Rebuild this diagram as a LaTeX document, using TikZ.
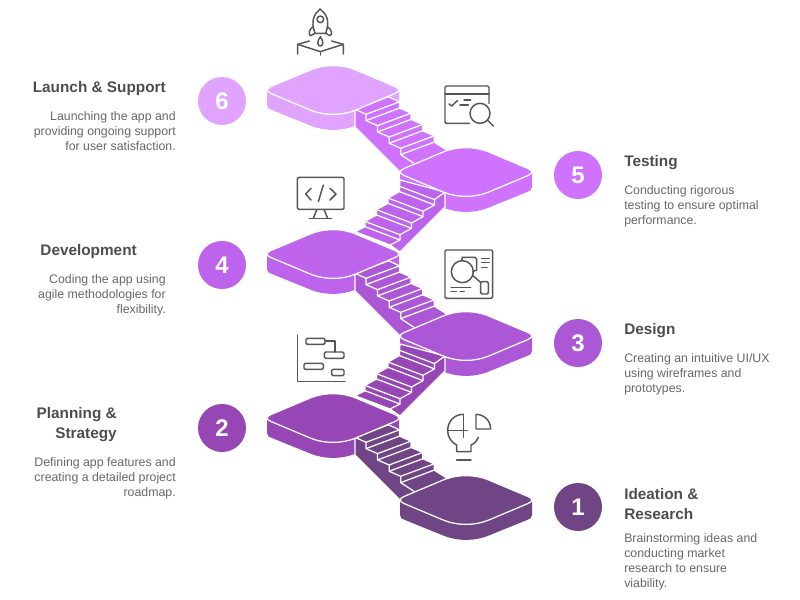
\documentclass[tikz,border=0pt]{standalone}
\usepackage{fontspec}
\setmainfont{Liberation Sans}
\usepackage{tikz}

\definecolor{p1}{HTML}{6F4585}
\definecolor{p2}{HTML}{9747B5}
\definecolor{p3}{HTML}{AC57D6}
\definecolor{p4}{HTML}{BE63EC}
\definecolor{p5}{HTML}{CF73FF}
\definecolor{p6}{HTML}{E0A4FF}
\definecolor{ink}{HTML}{555555}
\definecolor{headink}{HTML}{4D4D4D}
\definecolor{bodyink}{HTML}{666666}

% platform seen from above, centred on the scope origin
\newcommand{\platside}[3]{
  \begin{scope}[shift={(#1,#2)}]
    \fill[#3] (-66,0) -- (-66,15) .. controls (-66,18) and (-64,19) .. (-61,20) -- (-24,35)
      .. controls (-9,41.5) and (9,41.5) .. (24,35) -- (61,20)
      .. controls (64,19) and (66,18) .. (66,15) -- (66,0) -- cycle;
  \end{scope}
}
\newcommand{\plattop}[3]{
  \begin{scope}[shift={(#1,#2)}]
    \draw[#3,draw=white,fill=#3,wline] (-62,-3.5) -- (-24,-19.5)
      .. controls (-9,-26) and (9,-26) .. (24,-19.5) -- (62,-3.5)
      .. controls (67,-1.5) and (67,1.5) .. (62,3.5) -- (24,19.5)
      .. controls (9,26) and (-9,26) .. (-24,19.5) -- (-62,3.5)
      .. controls (-67,1.5) and (-67,-1.5) .. (-62,-3.5) -- cycle;
  \end{scope}
}
% flight going down to the right, from the left platform
\newcommand{\downflight}[2]{
  \begin{scope}[shift={(0,#2)}]
    \draw[draw=white,fill=#1,wline] (355,109.3) -- (355,127) -- (400,172) -- (447.5,150.5)
      \foreach \k in {3,2,1,0} {
        -- (399.5+11.57*\k,108.1+11.33*\k) -- (399.5+11.57*\k,101.8+11.33*\k)
      } -- (388.5,96.8) -- cycle;
    \draw[white,wline] (355,109.3) \foreach \k in {0,...,3} {
        -- (366+11.57*\k,114.3+11.33*\k) -- (366+11.57*\k,120.6+11.33*\k)
      } -- (414,163.3);
    \foreach \k in {0,...,3} {
      \draw[white,wline] (366+11.57*\k,114.3+11.33*\k) -- ++(33.5,-12.5);
      \draw[white,wline] (366+11.57*\k,120.6+11.33*\k) -- ++(33.5,-12.5);
    }
  \end{scope}
}
% flight going up to the right, towards the right platform
\newcommand{\upflight}[2]{
  \begin{scope}[shift={(0,#2)}]
    \draw[draw=white,fill=#1,wline] (355,231.7) \foreach \k in {0,...,3} {
        -- (365+11.5*\k,226.7-11.7*\k) -- (365+11.5*\k,221.4-11.7*\k)
      } -- (400,180) -- (445,192) -- (445,207) -- (400,252) -- (390,245) -- cycle;
    \draw[white,wline] (390,245) \foreach \k in {0,...,3} {
        -- (400+11.5*\k,240-11.7*\k) -- (400+11.5*\k,234.7-11.7*\k)
      } -- (445,192);
    \foreach \k in {0,...,3} {
      \draw[white,wline] (365+11.5*\k,226.7-11.7*\k) -- ++(35,13.3);
      \draw[white,wline] (365+11.5*\k,221.4-11.7*\k) -- ++(35,13.3);
    }
  \end{scope}
}

\begin{document}
\begin{tikzpicture}[x=0.75pt,y=-0.75pt,
  wline/.style={line width=0.95pt,line join=round},
  icon/.style={draw=ink,line width=1.1pt,line cap=round,line join=round},
  zoomed/.style={x=0.25pt,y=-0.25pt},
  num node/.style={circle,minimum size=36pt,inner sep=0pt,text=white,font=\fontsize{18}{18}\selectfont\bfseries},
  head node/.style={inner sep=0pt,align=#1,text=headink,font=\fontsize{11.5}{15}\selectfont\bfseries},
  text node/.style={inner sep=0pt,align=#1,text=bodyink,font=\fontsize{9.25}{11.25}\selectfont}]

  \useasboundingbox (0,0) rectangle (800,600);

  \foreach \cx/\cy/\col in {333/90/p6,466/172/p5,333/254/p4,466/336/p3,333/418/p2,466/500/p1}
    \platside{\cx}{\cy}{\col};
  \downflight{p5}{0}
  \downflight{p3}{164}
  \downflight{p1}{328}
  \upflight{p4}{0}
  \upflight{p2}{164}
  \foreach \cx/\cy/\col in {333/90/p6,466/172/p5,333/254/p4,466/336/p3,333/418/p2,466/500/p1}
    \plattop{\cx}{\cy}{\col};

  \node[num node,fill=p6] (n6) at (222,101) {6};
  \node[num node,fill=p5] (n5) at (578,175) {5};
  \node[num node,fill=p4] (n4) at (222,265) {4};
  \node[num node,fill=p3] (n3) at (578,343) {3};
  \node[num node,fill=p2] (n2) at (222,428) {2};
  \node[num node,fill=p1] (n1) at (578,507) {1};

  \node[head node=right,anchor=east] (h6) at (166,89) {Launch \& Support};
  \node[head node=left,anchor=west] (h5) at (624,163) {Testing};
  \node[head node=right,anchor=east] (h4) at (137,252) {Development};
  \node[head node=left,anchor=west] (h3) at (624,331) {Design};
  \node[head node=right,anchor=east] (h2) at (117,425) {Planning \&\\Strategy};
  \node[head node=left,anchor=west] (h1) at (624,504) {Ideation \&\\Research};

  \node[text node=right,anchor=north east] (t6) at (176,111) {Launching the app and\\providing ongoing support\\for user satisfaction.};
  \node[text node=left,anchor=north west] (t5) at (624,185) {Conducting rigorous\\testing to ensure optimal\\performance.};
  \node[text node=right,anchor=north east] (t4) at (166,274) {Coding the app using\\agile methodologies for\\flexibility.};
  \node[text node=left,anchor=north west] (t3) at (624,353) {Creating an intuitive UI/UX\\using wireframes and\\prototypes.};
  \node[text node=right,anchor=north east] (t2) at (176,457) {Defining app features and\\creating a detailed project\\roadmap.};
  \node[text node=left,anchor=north west] (t1) at (624,533) {Brainstorming ideas and\\conducting market\\research to ensure\\viability.};

  % rocket
  \begin{scope}[shift={(260,0)},zoomed]
    \draw[icon] (165,100) .. controls (150,60) and (165,40) .. (180,27)
      .. controls (197,40) and (212,60) .. (197,100) -- cycle;
    \draw[icon] (181,58) circle (10);
    \draw[icon] (160,80) .. controls (145,88) and (145,105) .. (152,107) -- (165,100);
    \draw[icon] (202,80) .. controls (217,88) and (217,105) .. (210,107) -- (197,100);
    \draw[icon] (181,110) .. controls (170,125) and (172,138) .. (181,138)
      .. controls (190,138) and (192,125) .. (181,110);
    \draw[icon] (113,162) -- (113,133) -- (148,123);
    \draw[icon] (250,162) -- (250,133) -- (215,123);
    \draw[icon] (113,133) -- (181,155) -- (250,133);
    \draw[icon] (181,155) -- (181,165);
  \end{scope}

  % checklist and lens
  \begin{scope}[shift={(260,0)},zoomed]
    \draw[icon,rounded corners=1pt] (628,370) -- (555,370) -- (555,258) -- (687,258) -- (687,310);
    \draw[icon] (555,282) -- (687,282);
    \draw[icon] (567,312) -- (575,318) -- (592,302);
    \draw[icon] (612,300) -- (632,300);
    \draw[icon] (600,315) -- (625,315);
    \draw[icon] (660,340) circle (30);
    \draw[icon] (682,360) -- (700,378);
  \end{scope}

  % monitor
  \begin{scope}[shift={(280,170)},zoomed]
    \draw[icon,rounded corners=1pt] (52,22) rectangle (192,118);
    \draw[icon] (110,120) -- (100,145);
    \draw[icon] (133,120) -- (143,145);
    \draw[icon] (88,145) -- (155,145);
    \draw[icon] (93,55) -- (77,72) -- (93,90);
    \draw[icon] (130,45) -- (115,95);
    \draw[icon] (150,55) -- (168,72) -- (150,90);
  \end{scope}

  % wireframe board
  \begin{scope}[shift={(280,170)},zoomed]
    \draw[icon,rounded corners=1pt] (495,240) rectangle (638,385);
    \draw[icon] (547,262) -- (585,262) -- (590,267) -- (590,300) -- (578,305);
    \draw[icon] (547,262) -- (545,272);
    \draw[icon] (547,305) circle (33);
    \draw[icon] (605,265) -- (628,265);
    \draw[icon] (605,278) -- (628,278);
    \draw[icon] (605,292) -- (622,292);
    \draw[icon] (580,318) -- (603,338);
    \draw[icon,rounded corners=1pt] (602,335) rectangle (625,372);
    \draw[icon] (513,352) -- (572,352);
    \draw[icon] (513,365) -- (530,365);
    \draw[icon] (540,365) -- (553,365);
  \end{scope}

  % gantt chart
  \begin{scope}[shift={(280,170)},zoomed]
    \draw[icon] (52,495) -- (52,635) -- (195,635);
    \draw[icon,rounded corners=1pt] (78,505) rectangle (135,523);
    \draw[icon,rounded corners=1pt] (133,546) rectangle (192,565);
    \draw[icon,rounded corners=1pt] (72,580) rectangle (130,598);
    \draw[icon,rounded corners=1pt] (155,598) rectangle (192,617);
    \draw[icon] (135,513) -- (165,513) -- (165,546);
  \end{scope}

  % bulb and pie
  \begin{scope}[shift={(260,380)},zoomed]
    \draw[icon] (610,103) .. controls (582,103) and (563,125) .. (563,152)
      .. controls (563,172) and (575,188) .. (590,195) -- (590,215) -- (633,215) -- (633,195)
      .. controls (643,192) and (650,183) .. (655,172);
    \draw[icon] (563,152) -- (622,152);
    \draw[icon] (610,103) -- (610,172);
    \draw[icon] (648,103) -- (648,147) -- (692,147) .. controls (692,122) and (672,103) .. (648,103);
    \draw[icon] (590,240) -- (633,240);
  \end{scope}
\end{tikzpicture}
\end{document}
